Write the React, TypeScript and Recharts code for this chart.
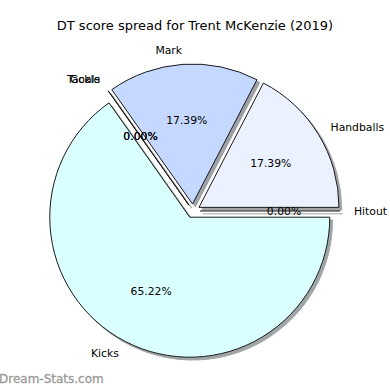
import { PieChart, Pie, Cell } from "recharts";

const categories = ["Hitout", "Handballs", "Mark", "Tackle", "Goals", "Kicks"];
const scores = [0, 4, 4, 0, 0, 15];
const sliceColors = ["#ffffff", "#ebf1ff", "#c5d8ff", "#ffffff", "#ffffff", "#d9ffff"];

const data = categories.map((name, i) => ({ name, value: scores[i] }));

const W = 390;
const H = 390;
const CX = 193;
const CY = 211;
const R = 140;
const EXPLODE = 0.05;
const SHADOW = 2.8;
const EDGE = "#1a1a1a";
const RADIAN = Math.PI / 180;
const FONT = "DejaVu Sans, sans-serif";

const total = scores.reduce((a, b) => a + b, 0);

// big slice first, zero slices last so their labels sit on top
const drawOrder = [5, 1, 2, 0, 3, 4];

function centerOf(i: number) {
  const before = scores.slice(0, i).reduce((a, b) => a + b, 0);
  const mid = ((before + scores[i] / 2) / total) * 360 * RADIAN;
  return {
    x: CX + EXPLODE * R * Math.cos(mid),
    y: CY - EXPLODE * R * Math.sin(mid),
  };
}

// matplotlib style shadow: 0.3 * colour at alpha 0.5, flattened on white
function shadowOf(hex: string) {
  const n = parseInt(hex.slice(1), 16);
  const ch = [(n >> 16) & 255, (n >> 8) & 255, n & 255].map((c) =>
    Math.round(0.5 * 0.3 * c + 0.5 * 255)
  );
  return `rgb(${ch.join(",")})`;
}

const shadowLabel = (i: number) => (props: any) => {
  if (props.index !== i || scores[i] !== 0) return null;
  const { cx, cy, midAngle, outerRadius } = props;
  const cos = Math.cos(-midAngle * RADIAN);
  const sin = Math.sin(-midAngle * RADIAN);
  return (
    <line
      x1={cx}
      y1={cy}
      x2={cx + outerRadius * cos}
      y2={cy + outerRadius * sin}
      stroke={shadowOf(sliceColors[i])}
      strokeWidth={1}
    />
  );
};

const sliceLabel = (i: number) => (props: any) => {
  if (props.index !== i) return null;
  const { cx, cy, midAngle, outerRadius, percent, name } = props;
  const cos = Math.cos(-midAngle * RADIAN);
  const sin = Math.sin(-midAngle * RADIAN);
  return (
    <g>
      {scores[i] === 0 && (
        <line
          x1={cx}
          y1={cy}
          x2={cx + outerRadius * cos}
          y2={cy + outerRadius * sin}
          stroke={EDGE}
          strokeWidth={1}
        />
      )}
      <text
        x={cx + outerRadius * 1.1 * cos}
        y={cy + outerRadius * 1.1 * sin}
        textAnchor={cos > 0 ? "start" : "end"}
        dominantBaseline="central"
        fontFamily={FONT}
        fontSize={10.8}
        fill="#000"
      >
        {name}
      </text>
      <text
        x={cx + outerRadius * 0.6 * cos}
        y={cy + outerRadius * 0.6 * sin}
        textAnchor="middle"
        dominantBaseline="central"
        fontFamily={FONT}
        fontSize={10.8}
        fill="#000"
      >
        {(percent * 100).toFixed(2)}%
      </text>
    </g>
  );
};

export default function App() {
  return (
    <div style={{ position: "relative", width: W, height: H, background: "#fff" }}>
      <style>{"body{margin:0}"}</style>
      <PieChart width={W} height={H} margin={{ top: 0, right: 0, bottom: 0, left: 0 }}>
        {drawOrder.map((i) => {
          const c = centerOf(i);
          return (
            <Pie
              key={`shadow-${i}`}
              data={data}
              dataKey="value"
              nameKey="name"
              cx={c.x + SHADOW}
              cy={c.y + SHADOW}
              outerRadius={R}
              label={shadowLabel(i)}
              labelLine={false}
              isAnimationActive={false}
            >
              {data.map((d, j) => (
                <Cell
                  key={d.name}
                  fill={j === i ? shadowOf(sliceColors[i]) : "none"}
                  stroke={j === i ? shadowOf(sliceColors[i]) : "none"}
                  strokeWidth={1}
                />
              ))}
            </Pie>
          );
        })}
        {drawOrder.map((i) => {
          const c = centerOf(i);
          return (
            <Pie
              key={`slice-${i}`}
              data={data}
              dataKey="value"
              nameKey="name"
              cx={c.x}
              cy={c.y}
              outerRadius={R}
              label={sliceLabel(i)}
              labelLine={false}
              isAnimationActive={false}
            >
              {data.map((d, j) => (
                <Cell
                  key={d.name}
                  fill={j === i ? sliceColors[i] : "none"}
                  stroke={j === i ? EDGE : "none"}
                  strokeWidth={1}
                />
              ))}
            </Pie>
          );
        })}
      </PieChart>
      <svg
        width={W}
        height={H}
        style={{ position: "absolute", left: 0, top: 0, pointerEvents: "none" }}
      >
        <text
          x={195}
          y={25}
          textAnchor="middle"
          dominantBaseline="central"
          fontFamily={FONT}
          fontSize={13}
          fill="#000"
        >
          DT score spread for Trent McKenzie (2019)
        </text>
        <text
          x={-1}
          y={379}
          dominantBaseline="central"
          fontFamily={FONT}
          fontSize={12}
          fill="#999"
          stroke="#999"
          strokeWidth={0.3}
        >
          Dream-Stats.com
        </text>
      </svg>
    </div>
  );
}
